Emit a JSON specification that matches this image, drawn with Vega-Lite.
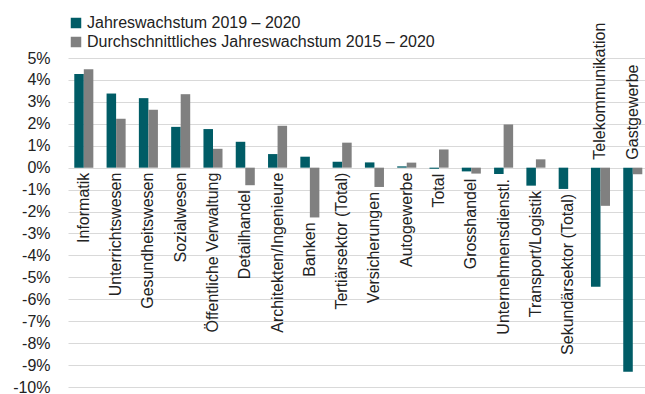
{
  "$schema": "https://vega.github.io/schema/vega-lite/v6.json",
  "width": 577,
  "height": 329,
  "autosize": {"type": "none"},
  "padding": {"left": 68, "top": 58, "right": 0, "bottom": 7},
  "background": "white",
  "config": {
    "view": {"stroke": null},
    "font": "Liberation Sans",
    "axisY": {"labelOverlap": false, "labelFontSize": 16, "labelColor": "#222222", "labelPadding": 18, "labelFont": "Liberation Sans", "labelBound": false},
    "legend": {"labelFontSize": 16, "labelColor": "#222222"}
  },
  "data": {
    "values": [
      {"Branche": "Informatik", "Reihe": "Jahreswachstum 2019 – 2020", "Wert": 4.27},
      {"Branche": "Informatik", "Reihe": "Durchschnittliches Jahreswachstum 2015 – 2020", "Wert": 4.49},
      {"Branche": "Unterrichtswesen", "Reihe": "Jahreswachstum 2019 – 2020", "Wert": 3.38},
      {"Branche": "Unterrichtswesen", "Reihe": "Durchschnittliches Jahreswachstum 2015 – 2020", "Wert": 2.23},
      {"Branche": "Gesundheitswesen", "Reihe": "Jahreswachstum 2019 – 2020", "Wert": 3.17},
      {"Branche": "Gesundheitswesen", "Reihe": "Durchschnittliches Jahreswachstum 2015 – 2020", "Wert": 2.64},
      {"Branche": "Sozialwesen", "Reihe": "Jahreswachstum 2019 – 2020", "Wert": 1.86},
      {"Branche": "Sozialwesen", "Reihe": "Durchschnittliches Jahreswachstum 2015 – 2020", "Wert": 3.35},
      {"Branche": "Öffentliche Verwaltung", "Reihe": "Jahreswachstum 2019 – 2020", "Wert": 1.76},
      {"Branche": "Öffentliche Verwaltung", "Reihe": "Durchschnittliches Jahreswachstum 2015 – 2020", "Wert": 0.86},
      {"Branche": "Detailhandel", "Reihe": "Jahreswachstum 2019 – 2020", "Wert": 1.18},
      {"Branche": "Detailhandel", "Reihe": "Durchschnittliches Jahreswachstum 2015 – 2020", "Wert": -0.80},
      {"Branche": "Architekten/Ingenieure", "Reihe": "Jahreswachstum 2019 – 2020", "Wert": 0.62},
      {"Branche": "Architekten/Ingenieure", "Reihe": "Durchschnittliches Jahreswachstum 2015 – 2020", "Wert": 1.91},
      {"Branche": "Banken", "Reihe": "Jahreswachstum 2019 – 2020", "Wert": 0.50},
      {"Branche": "Banken", "Reihe": "Durchschnittliches Jahreswachstum 2015 – 2020", "Wert": -2.27},
      {"Branche": "Tertiärsektor (Total)", "Reihe": "Jahreswachstum 2019 – 2020", "Wert": 0.27},
      {"Branche": "Tertiärsektor (Total)", "Reihe": "Durchschnittliches Jahreswachstum 2015 – 2020", "Wert": 1.14},
      {"Branche": "Versicherungen", "Reihe": "Jahreswachstum 2019 – 2020", "Wert": 0.24},
      {"Branche": "Versicherungen", "Reihe": "Durchschnittliches Jahreswachstum 2015 – 2020", "Wert": -0.88},
      {"Branche": "Autogewerbe", "Reihe": "Jahreswachstum 2019 – 2020", "Wert": 0.06},
      {"Branche": "Autogewerbe", "Reihe": "Durchschnittliches Jahreswachstum 2015 – 2020", "Wert": 0.23},
      {"Branche": "Total", "Reihe": "Jahreswachstum 2019 – 2020", "Wert": -0.05},
      {"Branche": "Total", "Reihe": "Durchschnittliches Jahreswachstum 2015 – 2020", "Wert": 0.83},
      {"Branche": "Grosshandel", "Reihe": "Jahreswachstum 2019 – 2020", "Wert": -0.17},
      {"Branche": "Grosshandel", "Reihe": "Durchschnittliches Jahreswachstum 2015 – 2020", "Wert": -0.27},
      {"Branche": "Unternehmensdienstl.", "Reihe": "Jahreswachstum 2019 – 2020", "Wert": -0.29},
      {"Branche": "Unternehmensdienstl.", "Reihe": "Durchschnittliches Jahreswachstum 2015 – 2020", "Wert": 1.97},
      {"Branche": "Transport/Logistik", "Reihe": "Jahreswachstum 2019 – 2020", "Wert": -0.82},
      {"Branche": "Transport/Logistik", "Reihe": "Durchschnittliches Jahreswachstum 2015 – 2020", "Wert": 0.38},
      {"Branche": "Sekundärsektor (Total)", "Reihe": "Jahreswachstum 2019 – 2020", "Wert": -0.97},
      {"Branche": "Sekundärsektor (Total)", "Reihe": "Durchschnittliches Jahreswachstum 2015 – 2020", "Wert": 0.0},
      {"Branche": "Telekommunikation", "Reihe": "Jahreswachstum 2019 – 2020", "Wert": -5.43},
      {"Branche": "Telekommunikation", "Reihe": "Durchschnittliches Jahreswachstum 2015 – 2020", "Wert": -1.74},
      {"Branche": "Gastgewerbe", "Reihe": "Jahreswachstum 2019 – 2020", "Wert": -9.30},
      {"Branche": "Gastgewerbe", "Reihe": "Durchschnittliches Jahreswachstum 2015 – 2020", "Wert": -0.30}
    ]
  },
  "encoding": {
    "x": {
      "field": "Branche",
      "type": "nominal",
      "sort": ["Informatik", "Unterrichtswesen", "Gesundheitswesen", "Sozialwesen", "Öffentliche Verwaltung", "Detailhandel", "Architekten/Ingenieure", "Banken", "Tertiärsektor (Total)", "Versicherungen", "Autogewerbe", "Total", "Grosshandel", "Unternehmensdienstl.", "Transport/Logistik", "Sekundärsektor (Total)", "Telekommunikation", "Gastgewerbe"],
      "scale": {"paddingInner": 0.41, "paddingOuter": 0.139, "align": 0.7},
      "axis": null
    },
    "y": {
      "type": "quantitative",
      "scale": {"domain": [-10, 5], "nice": false},
      "axis": {
        "title": null,
        "values": [-10, -9, -8, -7, -6, -5, -4, -3, -2, -1, 0, 1, 2, 3, 4, 5],
        "labelExpr": "datum.value + '%'",
        "labelOverlap": false,
        "labelBound": false,
        "grid": true,
        "gridColor": "#d9d9d9",
        "gridWidth": 1,
        "domain": false,
        "ticks": false,
        "labelFontSize": 16,
        "labelFont": "Liberation Sans",
        "labelColor": "#222222",
        "labelPadding": 18
      }
    }
  },
  "layer": [
    {
      "mark": {"type": "bar"},
      "encoding": {
        "xOffset": {
          "field": "Reihe",
          "type": "nominal",
          "sort": ["Jahreswachstum 2019 – 2020", "Durchschnittliches Jahreswachstum 2015 – 2020"],
          "scale": {"paddingInner": 0, "paddingOuter": 0}
        },
        "y": {"field": "Wert"},
        "color": {
          "field": "Reihe",
          "type": "nominal",
          "scale": {
            "domain": ["Jahreswachstum 2019 – 2020", "Durchschnittliches Jahreswachstum 2015 – 2020"],
            "range": ["#005c66", "#808080"]
          },
          "legend": {
            "orient": "none",
            "legendX": 0,
            "legendY": -43,
            "title": null,
            "padding": 0,
            "symbolType": "square",
            "symbolSize": 110,
            "symbolStrokeWidth": 0,
            "labelFontSize": 16,
            "labelFont": "Liberation Sans",
            "labelColor": "#222222",
            "labelOffset": 3,
            "rowPadding": 3,
            "direction": "vertical",
            "labelLimit": 500
          }
        }
      }
    },
    {
      "transform": [
        {"aggregate": [{"op": "min", "field": "Wert", "as": "lo"}], "groupby": ["Branche"]},
        {"filter": "datum.lo >= 0"}
      ],
      "mark": {"type": "text", "angle": 270, "align": "right", "baseline": "middle", "dx": -5, "fontSize": 16, "font": "Liberation Sans", "color": "#222222"},
      "encoding": {
        "y": {"datum": 0},
        "text": {"field": "Branche"}
      }
    },
    {
      "transform": [
        {"aggregate": [{"op": "min", "field": "Wert", "as": "lo"}], "groupby": ["Branche"]},
        {"filter": "datum.lo < 0 && datum.lo >= -4"}
      ],
      "mark": {"type": "text", "angle": 270, "align": "right", "baseline": "middle", "dx": -5, "fontSize": 16, "font": "Liberation Sans", "color": "#222222"},
      "encoding": {
        "y": {"field": "lo"},
        "text": {"field": "Branche"}
      }
    },
    {
      "transform": [
        {"aggregate": [{"op": "min", "field": "Wert", "as": "lo"}], "groupby": ["Branche"]},
        {"filter": "datum.lo < -4"}
      ],
      "mark": {"type": "text", "angle": 270, "align": "left", "baseline": "middle", "dx": 8, "fontSize": 16, "font": "Liberation Sans", "color": "#222222"},
      "encoding": {
        "y": {"datum": 0},
        "text": {"field": "Branche"}
      }
    }
  ]
}
